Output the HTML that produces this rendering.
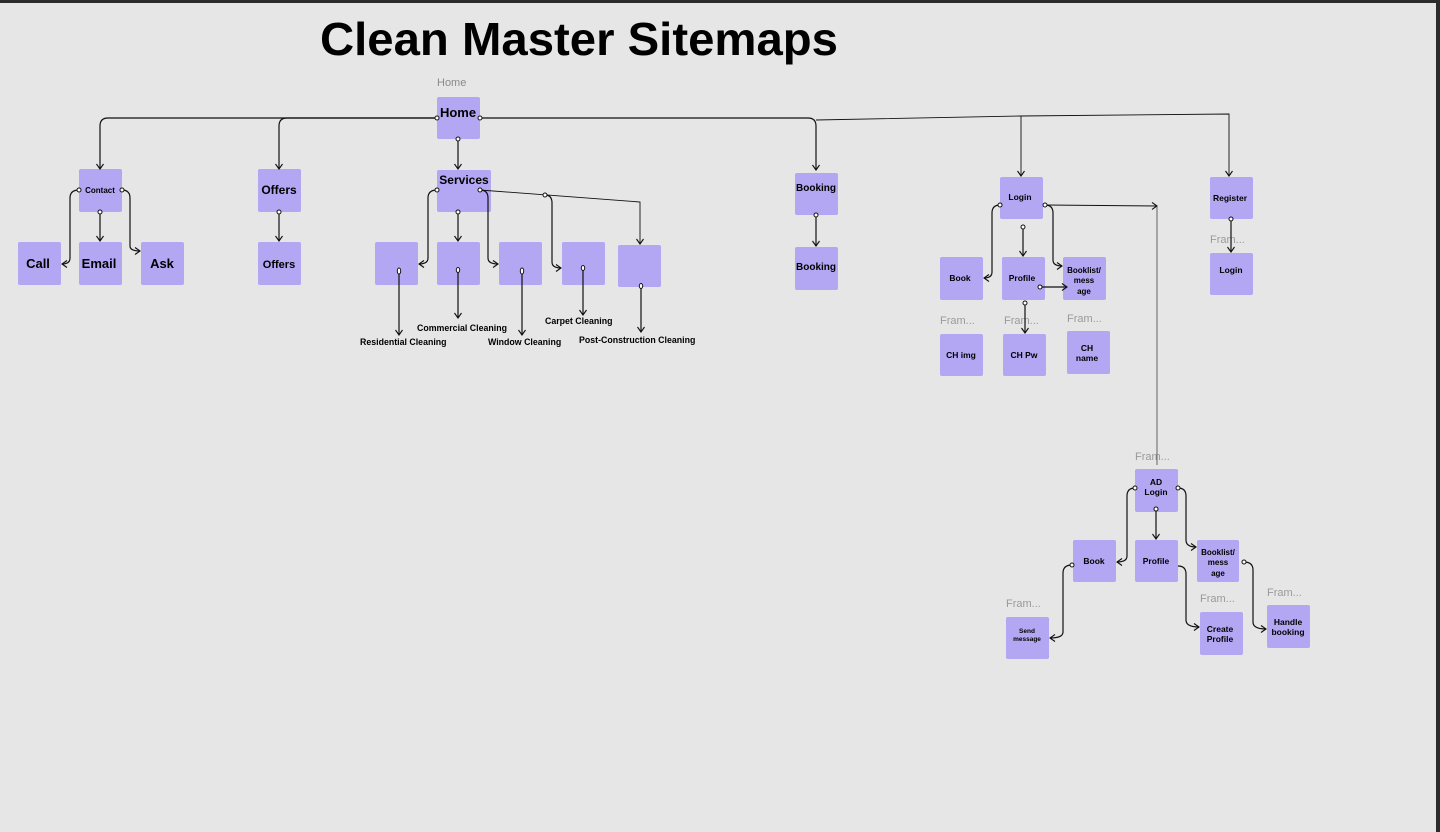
<!DOCTYPE html>
<html><head><meta charset="utf-8"><style>
html,body{margin:0;padding:0;background:#e6e6e6;}
svg{display:block}
</style></head><body>
<svg width="1440" height="832" viewBox="0 0 1440 832" xmlns="http://www.w3.org/2000/svg" font-family="Liberation Sans, sans-serif">
<defs>
<marker id="a" markerWidth="10" markerHeight="10" refX="6" refY="4" orient="auto" markerUnits="userSpaceOnUse">
<path d="M1,0.5 L6,4 L1,7.5" fill="none" stroke="#111" stroke-width="1.1"/>
</marker>
</defs>
<rect width="1440" height="832" fill="#e6e6e6"/>
<rect x="0" y="0" width="1440" height="3" fill="#2c2c2c"/>
<rect x="1436" y="0" width="4" height="832" fill="#2c2c2c"/>
<text x="320" y="55" font-size="46" font-weight="bold" fill="#000" textLength="518" lengthAdjust="spacingAndGlyphs">Clean Master Sitemaps</text>
<text x="437" y="86" font-size="11" fill="#8a8a8a">Home</text>

<g fill="#b3a6f2">
<rect x="437" y="97" width="43" height="42" rx="2"/>
<rect x="79" y="169" width="43" height="43" rx="2"/>
<rect x="258" y="169" width="43" height="43" rx="2"/>
<rect x="437" y="170" width="54" height="42" rx="2"/>
<rect x="18" y="242" width="43" height="43" rx="2"/>
<rect x="79" y="242" width="43" height="43" rx="2"/>
<rect x="141" y="242" width="43" height="43" rx="2"/>
<rect x="258" y="242" width="43" height="43" rx="2"/>
<rect x="375" y="242" width="43" height="43" rx="2"/>
<rect x="437" y="242" width="43" height="43" rx="2"/>
<rect x="499" y="242" width="43" height="43" rx="2"/>
<rect x="562" y="242" width="43" height="43" rx="2"/>
<rect x="618" y="245" width="43" height="42" rx="2"/>
<rect x="795" y="173" width="43" height="42" rx="2"/>
<rect x="795" y="247" width="43" height="43" rx="2"/>
<rect x="1000" y="177" width="43" height="42" rx="2"/>
<rect x="1210" y="177" width="43" height="42" rx="2"/>
<rect x="1210" y="253" width="43" height="42" rx="2"/>
<rect x="940" y="257" width="43" height="43" rx="2"/>
<rect x="1002" y="257" width="43" height="43" rx="2"/>
<rect x="1063" y="257" width="43" height="43" rx="2"/>
<rect x="940" y="334" width="43" height="42" rx="2"/>
<rect x="1003" y="334" width="43" height="42" rx="2"/>
<rect x="1067" y="331" width="43" height="43" rx="2"/>
<rect x="1135" y="469" width="43" height="43" rx="2"/>
<rect x="1073" y="540" width="43" height="42" rx="2"/>
<rect x="1135" y="540" width="43" height="42" rx="2"/>
<rect x="1197" y="540" width="42" height="42" rx="2"/>
<rect x="1006" y="617" width="43" height="42" rx="2"/>
<rect x="1200" y="612" width="43" height="43" rx="2"/>
<rect x="1267" y="605" width="43" height="43" rx="2"/>
</g>

<g font-weight="bold" fill="#000" text-anchor="middle">
<text x="458" y="117" font-size="13">Home</text>
<text x="100" y="193" font-size="8">Contact</text>
<text x="279" y="194" font-size="12">Offers</text>
<text x="464" y="184" font-size="12">Services</text>
<text x="38" y="268" font-size="13">Call</text>
<text x="99" y="268" font-size="13">Email</text>
<text x="162" y="268" font-size="13">Ask</text>
<text x="279" y="268" font-size="11">Offers</text>
<text x="816" y="191" font-size="10">Booking</text>
<text x="816" y="270" font-size="10">Booking</text>
<text x="1020" y="200" font-size="8.5">Login</text>
<text x="1230" y="201" font-size="8.5">Register</text>
<text x="1231" y="273" font-size="8.5">Login</text>
<text x="960" y="281" font-size="8.5">Book</text>
<text x="1022" y="281" font-size="8.5">Profile</text>
<text x="1084" y="273" font-size="8">Booklist/</text>
<text x="1084" y="283" font-size="8">mess</text>
<text x="1084" y="294" font-size="8">age</text>
<text x="961" y="358" font-size="8.5">CH img</text>
<text x="1024" y="358" font-size="8.5">CH Pw</text>
<text x="1087" y="351" font-size="8.5">CH</text>
<text x="1087" y="361" font-size="8.5">name</text>
<text x="1156" y="485" font-size="8.5">AD</text>
<text x="1156" y="495" font-size="8.5">Login</text>
<text x="1094" y="564" font-size="8.5">Book</text>
<text x="1156" y="564" font-size="8.5">Profile</text>
<text x="1218" y="555" font-size="8">Booklist/</text>
<text x="1218" y="565" font-size="8">mess</text>
<text x="1218" y="576" font-size="8">age</text>
<text x="1027" y="633" font-size="6.5">Send</text>
<text x="1027" y="641" font-size="6.5">message</text>
<text x="1220" y="632" font-size="8.5">Create</text>
<text x="1220" y="642" font-size="8.5">Profile</text>
<text x="1288" y="625" font-size="8.5">Handle</text>
<text x="1288" y="635" font-size="8.5">booking</text>
</g>
<g font-weight="bold" fill="#000" font-size="8.8">
<text x="360" y="345">Residential Cleaning</text>
<text x="417" y="331">Commercial Cleaning</text>
<text x="488" y="345">Window Cleaning</text>
<text x="545" y="324">Carpet Cleaning</text>
<text x="579" y="343">Post-Construction Cleaning</text>
</g>
<g fill="#9a9a9a" font-size="11">
<text x="1210" y="243">Fram...</text>
<text x="940" y="324">Fram...</text>
<text x="1004" y="324">Fram...</text>
<text x="1067" y="322">Fram...</text>
<text x="1135" y="460">Fram...</text>
<text x="1006" y="607">Fram...</text>
<text x="1200" y="602">Fram...</text>
<text x="1267" y="596">Fram...</text>
</g>

<g fill="none" stroke="#111" stroke-width="1.2" marker-end="url(#a)">
<path d="M437,118 H108 Q100,118 100,126 V169"/>
<path d="M437,118 H287 Q279,118 279,126 V169"/>
<path d="M480,118 H808 Q816,118 816,126 V170"/>
<path d="M458,139 V169"/>
<path d="M816,120 L1021,116 V176" stroke-width="0.9"/>
<path d="M1021,116 L1229,114 V176" stroke-width="0.9"/>
<path d="M79,190 Q70,190 70,198 V258 Q70,264 62,264"/>
<path d="M122,190 Q130,190 130,198 V246 Q130,251 140,251"/>
<path d="M100,212 V241"/>
<path d="M279,212 V241"/>
<path d="M437,190 Q428,190 428,198 V258 Q428,264 419,264"/>
<path d="M458,212 V241"/>
<path d="M480,190 Q488,190 488,198 V258 Q488,264 498,264"/>
<path d="M480,190 L640,202 V244" stroke-width="0.9"/>
<path d="M545,195 Q552,195 552,203 V262 Q552,268 561,268"/>
<path d="M399,271 V335"/>
<path d="M458,270 V318"/>
<path d="M522,271 V335"/>
<path d="M583,268 V315"/>
<path d="M641,286 V332"/>
<path d="M816,215 V246"/>
<path d="M1000,205 Q992,205 992,213 V272 Q992,278 984,278"/>
<path d="M1023,227 V256"/>
<path d="M1045,205 Q1053,205 1053,213 V260 Q1053,266 1062,266"/>
<path d="M1040,287 H1067"/>
<path d="M1025,303 V333"/>
<path d="M1045,205 L1157,206" stroke-width="0.9"/>
<path d="M1231,219 V252"/>
<path d="M1135,488 Q1127,488 1127,496 V556 Q1127,562 1117,562"/>
<path d="M1156,509 V539"/>
<path d="M1178,488 Q1186,488 1186,496 V540 Q1186,547 1196,547"/>
<path d="M1072,565 Q1063,565 1063,573 V632 Q1063,638 1050,638"/>
<path d="M1178,566 Q1186,566 1186,574 V620 Q1186,627 1199,627"/>
<path d="M1244,562 Q1253,562 1253,570 V622 Q1253,629 1266,629"/>
</g>
<path d="M1157,206 V465" stroke="#555" stroke-width="0.9" fill="none"/>

<g fill="#fff" stroke="#111" stroke-width="1">
<circle cx="437" cy="118" r="2"/><circle cx="480" cy="118" r="2"/><circle cx="458" cy="139" r="2"/>
<circle cx="79" cy="190" r="2"/><circle cx="122" cy="190" r="2"/><circle cx="100" cy="212" r="2"/>
<circle cx="279" cy="212" r="2"/>
<circle cx="437" cy="190" r="2"/><circle cx="480" cy="190" r="2"/><circle cx="458" cy="212" r="2"/><circle cx="545" cy="195" r="2"/>
<ellipse cx="399" cy="271" rx="1.7" ry="3"/><ellipse cx="458" cy="270" rx="1.7" ry="2.5"/><ellipse cx="522" cy="271" rx="1.7" ry="3"/><ellipse cx="583" cy="268" rx="1.7" ry="2.5"/><ellipse cx="641" cy="286" rx="1.7" ry="2.5"/>
<circle cx="816" cy="215" r="2"/>
<circle cx="1000" cy="205" r="2"/><circle cx="1045" cy="205" r="2"/><circle cx="1023" cy="227" r="2"/>
<circle cx="1040" cy="287" r="2"/><circle cx="1025" cy="303" r="2"/><circle cx="1231" cy="219" r="2"/>
<circle cx="1135" cy="488" r="2"/><circle cx="1178" cy="488" r="2"/><circle cx="1156" cy="509" r="2"/>
<circle cx="1072" cy="565" r="2"/><circle cx="1244" cy="562" r="2"/>
</g>
</svg>
</body></html>
